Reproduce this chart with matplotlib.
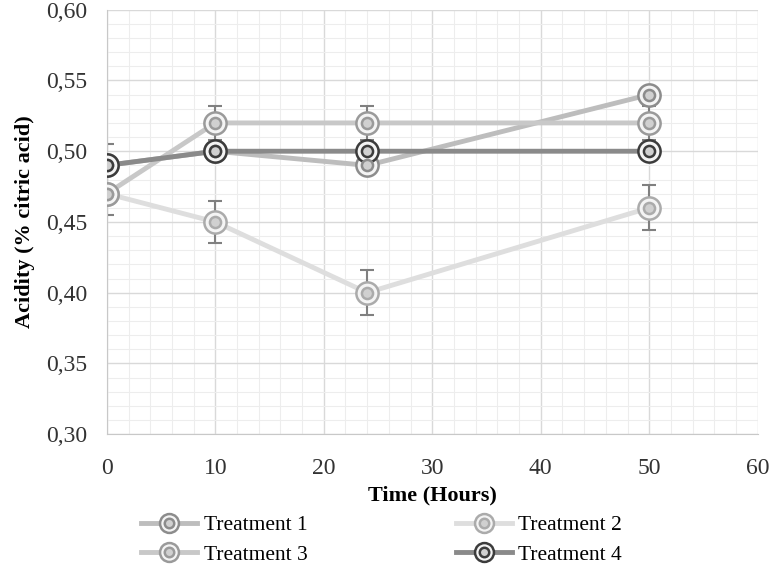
import matplotlib
matplotlib.use("Agg")
import matplotlib.pyplot as plt
from matplotlib.legend_handler import HandlerTuple
from matplotlib.ticker import MultipleLocator, FuncFormatter

# Data
hours = [0, 10, 24, 50]
treatment_1 = [0.49, 0.50, 0.49, 0.54]
treatment_2 = [0.47, 0.45, 0.40, 0.46]
treatment_3 = [0.47, 0.52, 0.52, 0.52]
treatment_4 = [0.49, 0.50, 0.50, 0.50]
err_1 = [0.005, 0.005, 0.005, 0.005]
err_2 = [0.015, 0.015, 0.016, 0.016]
err_3 = [0.005, 0.012, 0.012, 0.012]
err_4 = [0.015, 0.005, 0.005, 0.005]
labels = ["Treatment 1", "Treatment 2", "Treatment 3", "Treatment 4"]

plt.rcParams["font.family"] = ["Liberation Serif", "DejaVu Serif"]

fig = plt.figure(figsize=(7.74, 5.75), dpi=100)
ax = fig.add_axes([0.138, 0.245, 0.841, 0.738])

styles = [
    # line colour, marker colour
    ("#bdbdbd", "#8c8c8c"),
    ("#dedede", "#ababab"),
    ("#c8c8c8", "#9a9a9a"),
    ("#8a8a8a", "#3c3c3c"),
]
series = [treatment_1, treatment_2, treatment_3, treatment_4]
errors = [err_1, err_2, err_3, err_4]

handles = []
for vals, errs, (lc, mc) in zip(series, errors, styles):
    ax.errorbar(hours, vals, yerr=errs, fmt="none", ecolor="#808080",
                elinewidth=1.5, capsize=5, capthick=1.5, zorder=2)
    line, = ax.plot(hours, vals, color=lc, lw=3.5, zorder=3,
                    marker="o", ms=16, mfc="#f4f4f4", mec=mc, mew=1.8)
    inner, = ax.plot(hours, vals, ls="none", marker="o", ms=8,
                     mfc="#d0d0d0", mec=mc, mew=1.8, zorder=4)
    handles.append((line, inner))

ax.set_xlim(0, 60)
ax.set_ylim(0.30, 0.60)
ax.xaxis.set_major_locator(MultipleLocator(10))
ax.xaxis.set_minor_locator(MultipleLocator(2))
ax.yaxis.set_major_locator(MultipleLocator(0.05))
ax.yaxis.set_minor_locator(MultipleLocator(0.01))
ax.yaxis.set_major_formatter(FuncFormatter(lambda v, _: f"{v:.2f}".replace(".", ",")))

ax.grid(which="major", color="#d9d9d9", lw=1.0)
ax.grid(which="minor", color="#ededed", lw=0.8)
ax.set_axisbelow(True)
ax.tick_params(which="both", length=0, labelsize=17, colors="#333333")
ax.tick_params(axis="x", pad=17)
ax.tick_params(axis="y", pad=14)
for side in ["top", "right"]:
    ax.spines[side].set_visible(False)
for side in ["left", "bottom"]:
    ax.spines[side].set_color("#c8c8c8")

ax.set_xlabel("Time (Hours)", fontsize=16, fontweight="bold", labelpad=5)
ax.set_ylabel("Acidity (% citric acid)", fontsize=16, fontweight="bold", labelpad=8)

# reorder so the legend reads row-wise: 1 2 / 3 4
order = [0, 2, 1, 3]
fig.legend([handles[i] for i in order], [labels[i] for i in order],
           ncol=2, loc="lower center", bbox_to_anchor=(0.493, -0.016),
           frameon=False, fontsize=15.5, columnspacing=6.9, handlelength=2.6,
           labelspacing=0.45, handletextpad=0.3, markerscale=0.85,
           handler_map={tuple: HandlerTuple(ndivide=1)})

fig.savefig("out.png", dpi=100)
